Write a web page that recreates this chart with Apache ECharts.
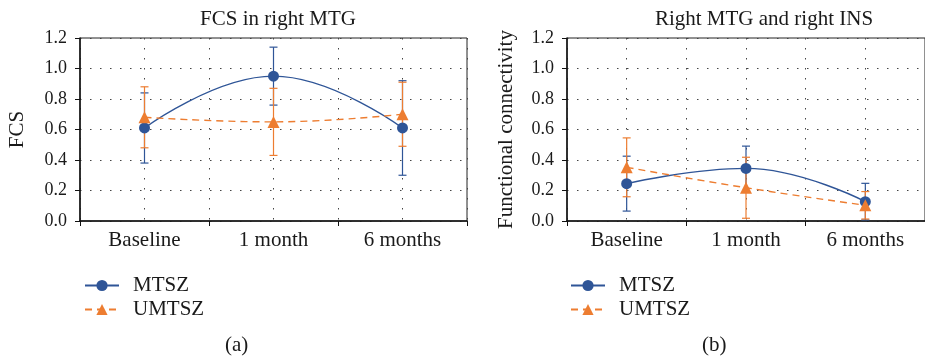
<!DOCTYPE html>
<html>
<head>
  <meta charset="utf-8">
  <title>FCS and functional connectivity</title>
  <script src="https://cdn.jsdelivr.net/npm/echarts@6/dist/echarts.min.js"></script>
  <style>
    html, body { margin: 0; padding: 0; background: #fff; }
    #main { width: 925px; height: 362px; }
  </style>
</head>
<body>
<div id="main"></div>
<script type="text/javascript">
// data
var categories = ['Baseline', '1 month', '6 months'];
var yTicks = { min: 0, max: 1.2, interval: 0.2 };

// (a) FCS in right MTG
var fcsMtsz = [0.61, 0.95, 0.61];
var fcsMtszErr = [0.23, 0.19, 0.31];
var fcsUmtsz = [0.68, 0.65, 0.70];
var fcsUmtszErr = [0.20, 0.22, 0.21];

// (b) right MTG and right INS
var fcMtsz = [0.245, 0.345, 0.127];
var fcMtszErr = [0.18, 0.146, 0.12];
var fcUmtsz = [0.352, 0.218, 0.103];
var fcUmtszErr = [0.193, 0.20, 0.09];

var BLUE = '#2f5597';
var ORANGE = '#ed7d31';
var FONT = "'Liberation Serif', 'DejaVu Serif', serif";
var TXT = '#1a1a1a';

var myChart = echarts.init(document.getElementById('main'));

function errData(mean, err) {
  var out = [];
  for (var i = 0; i < mean.length; i++) {
    out.push([i, mean[i] - err[i], mean[i] + err[i]]);
  }
  return out;
}

function errSeries(name, axisIdx, mean, err, color) {
  return {
    name: name + ' error',
    type: 'custom',
    xAxisIndex: axisIdx,
    yAxisIndex: axisIdx === 0 ? 0 : 1,
    z: 1,
    silent: true,
    data: errData(mean, err),
    renderItem: function (params, api) {
      var lo = api.coord([api.value(0), api.value(1)]);
      var hi = api.coord([api.value(0), api.value(2)]);
      var w = 4;
      var st = { stroke: color, lineWidth: 1.2 };
      return {
        type: 'group',
        children: [
          { type: 'line', shape: { x1: hi[0], y1: hi[1], x2: lo[0], y2: lo[1] }, style: st },
          { type: 'line', shape: { x1: hi[0] - w, y1: hi[1], x2: hi[0] + w, y2: hi[1] }, style: st },
          { type: 'line', shape: { x1: lo[0] - w, y1: lo[1], x2: lo[0] + w, y2: lo[1] }, style: st }
        ]
      };
    }
  };
}

function lineSeries(name, axisIdx, data, color, dashed) {
  return {
    name: name,
    type: 'line',
    xAxisIndex: axisIdx,
    yAxisIndex: axisIdx === 0 ? 0 : 1,
    z: 3,
    smooth: 0.45,
    data: data,
    symbol: dashed ? 'triangle' : 'circle',
    symbolSize: dashed ? 12 : 11,
    itemStyle: { color: color },
    lineStyle: { color: color, width: 1.4, type: dashed ? [7, 5] : 'solid' }
  };
}

function mainX(grid) {
  return {
    type: 'category', gridIndex: grid, data: categories, boundaryGap: true,
    axisLine: { lineStyle: { color: '#111', width: 1.5 } },
    axisTick: { show: true, length: 5, lineStyle: { color: '#111' } },
    axisLabel: { color: TXT, fontFamily: FONT, fontSize: 21, margin: 9 },
    splitLine: { show: false }
  };
}

// helper axis: six half bands so dotted lines fall on centres and boundaries
function gridX(grid) {
  return {
    type: 'category', gridIndex: grid, data: ['', '', '', '', '', ''], boundaryGap: true,
    axisLine: { show: false }, axisTick: { show: false }, axisLabel: { show: false },
    splitLine: { show: true, lineStyle: { color: '#444', width: 1, type: [1.5, 8.5] } }
  };
}

function yAx(grid, name, gap) {
  return {
    type: 'value', gridIndex: grid,
    min: yTicks.min, max: yTicks.max, interval: yTicks.interval,
    name: name, nameLocation: 'middle', nameGap: gap,
    nameTextStyle: { color: TXT, fontFamily: FONT, fontSize: 21 },
    axisLine: { show: true, lineStyle: { color: '#111', width: 1.5 } },
    axisTick: { show: true, length: 5, lineStyle: { color: '#111' } },
    axisLabel: { color: TXT, fontFamily: FONT, fontSize: 18, margin: 13,
      formatter: function (v) { return v.toFixed(1); } },
    splitLine: { show: true, lineStyle: { color: '#444', width: 1, type: [1.5, 8.5] } }
  };
}

function legendAt(left) {
  return {
    left: left, top: 270, orient: 'vertical',
    data: ['MTSZ', 'UMTSZ'],
    itemWidth: 34, itemHeight: 14, itemGap: 3,
    textStyle: { color: TXT, fontFamily: FONT, fontSize: 21, padding: [0, 0, 0, 9] }
  };
}

myChart.setOption({
  animation: false,
  title: [
    { text: 'FCS in right MTG', left: 273, top: 4, textAlign: 'center',
      textStyle: { color: TXT, fontFamily: FONT, fontSize: 21, fontWeight: 'normal' } },
    { text: 'Right MTG and right INS', left: 759, top: 4, textAlign: 'center',
      textStyle: { color: TXT, fontFamily: FONT, fontSize: 21, fontWeight: 'normal' } }
  ],
  legend: [legendAt(79), legendAt(565)],
  grid: [
    { left: 80, right: 458, top: 38, bottom: 141, show: true, borderColor: '#222', borderWidth: 1, backgroundColor: 'transparent' },
    { left: 567, right: -26, top: 38, bottom: 141, show: true, borderColor: '#222', borderWidth: 1, backgroundColor: 'transparent' }
  ],
  xAxis: [mainX(0), mainX(1), gridX(0), gridX(1)],
  yAxis: [yAx(0, 'FCS', 52), yAx(1, 'Functional connectivity', 50)],
  graphic: [
    { type: 'text', left: 225, top: 335, style: { text: '(a)', fill: TXT, font: '21px ' + FONT } },
    { type: 'text', left: 702, top: 335, style: { text: '(b)', fill: TXT, font: '21px ' + FONT } }
  ],
  series: [
    lineSeries('MTSZ', 0, fcsMtsz, BLUE, false),
    lineSeries('UMTSZ', 0, fcsUmtsz, ORANGE, true),
    lineSeries('MTSZ', 1, fcMtsz, BLUE, false),
    lineSeries('UMTSZ', 1, fcUmtsz, ORANGE, true),
    errSeries('MTSZ', 0, fcsMtsz, fcsMtszErr, BLUE),
    errSeries('UMTSZ', 0, fcsUmtsz, fcsUmtszErr, ORANGE),
    errSeries('MTSZ', 1, fcMtsz, fcMtszErr, BLUE),
    errSeries('UMTSZ', 1, fcUmtsz, fcUmtszErr, ORANGE)
  ]
});
</script>
</body>
</html>
